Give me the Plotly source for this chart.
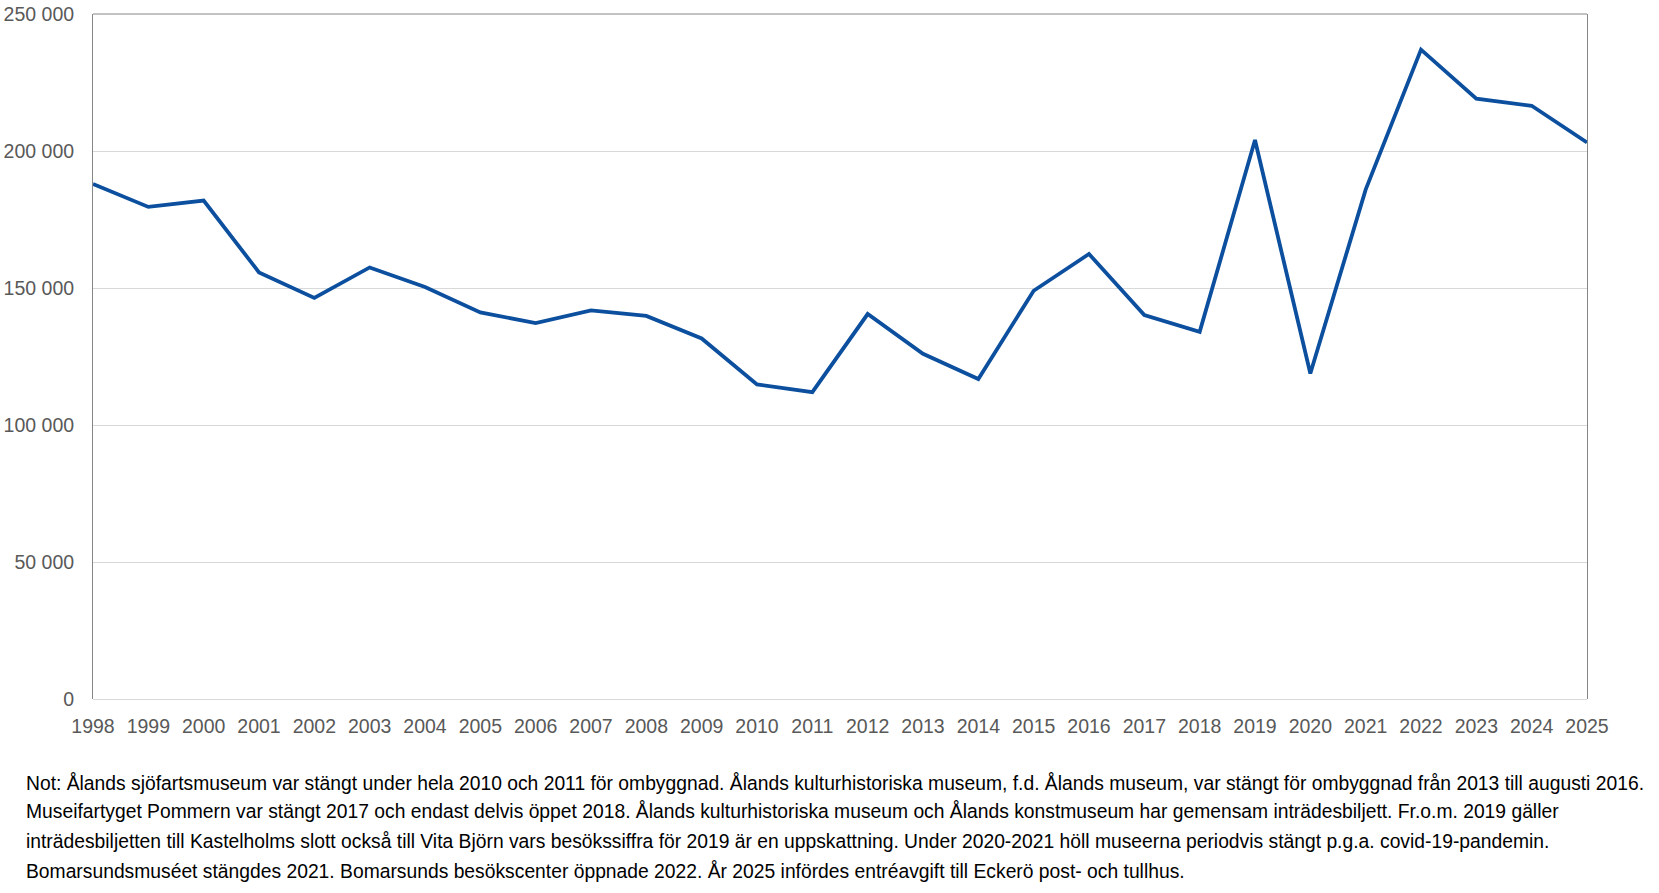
import plotly.graph_objects as go

years = list(range(1998, 2026))
visitors = [188000, 179600, 181900, 155700, 146400, 157500, 150400, 141100, 137200,
            141800, 139800, 131600, 114800, 112000, 140500, 126000, 116800, 149000,
            162400, 140100, 134000, 204000, 118800, 185900, 237000, 219100, 216500, 203100]

y_ticks = [0, 50000, 100000, 150000, 200000, 250000]

note_lines = [
    "Not: Ålands sjöfartsmuseum var stängt under hela 2010 och 2011 för ombyggnad. Ålands kulturhistoriska museum, f.d. Ålands museum, var stängt för ombyggnad från 2013 till augusti 2016.",
    "Museifartyget Pommern var stängt 2017 och endast delvis öppet 2018. Ålands kulturhistoriska museum och Ålands konstmuseum har gemensam inträdesbiljett. Fr.o.m. 2019 gäller",
    "inträdesbiljetten till Kastelholms slott också till Vita Björn vars besökssiffra för 2019 är en uppskattning. Under 2020-2021 höll museerna periodvis stängt p.g.a. covid-19-pandemin.",
    "Bomarsundsmuséet stängdes 2021. Bomarsunds besökscenter öppnade 2022. År 2025 infördes entréavgift till Eckerö post- och tullhus.",
]

FONT = "Liberation Sans, Arial, sans-serif"

fig = go.Figure()
fig.add_trace(go.Scatter(
    x=years, y=visitors, mode="lines",
    line=dict(color="#0B4F9E", width=3.8),
    showlegend=False, hoverinfo="x+y",
))

fig.update_layout(
    width=1659, height=893,
    margin=dict(l=93, r=72, t=14, b=194),
    paper_bgcolor="white", plot_bgcolor="white",
    separators=", ",
    font=dict(family=FONT, size=19, color="#595959"),
    xaxis=dict(
        range=[1998, 2025], tickmode="array", tickvals=years,
        ticktext=[str(y) for y in years], automargin=False,
        showgrid=False, showline=False, zeroline=False,
        ticks="", ticklabelstandoff=13,
        tickfont=dict(family=FONT, size=19.5, color="#595959"),
    ),
    yaxis=dict(
        range=[0, 250000], tickmode="array", tickvals=y_ticks, tickformat=",d",
        automargin=False,
        showgrid=True, gridcolor="#D9D9D9", gridwidth=1,
        zeroline=True, zerolinecolor="#D9D9D9", zerolinewidth=1,
        showline=True, linecolor="#868686", linewidth=1, mirror=True,
        ticks="", ticklabelstandoff=14,
        tickfont=dict(family=FONT, size=19.5, color="#595959"),
    ),
)

fig.add_shape(type="line", xref="paper", yref="paper", x0=0, x1=1, y0=1, y1=1,
              line=dict(color="#868686", width=1))

line_y = [-0.122, -0.164, -0.208, -0.251]
for txt, yy in zip(note_lines, line_y):
    fig.add_annotation(
        text=txt, xref="paper", yref="paper", x=-0.0462, y=yy,
        xanchor="left", yanchor="middle", showarrow=False,
        font=dict(family=FONT, size=19.3, color="#000000"),
    )

fig.write_html("out.html")
